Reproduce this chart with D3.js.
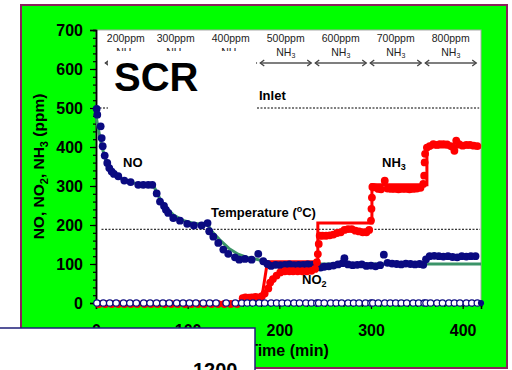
<!DOCTYPE html>
<html>
<head>
<meta charset="utf-8">
<script src="https://cdn.jsdelivr.net/npm/d3@7/dist/d3.min.js"></script>
<style>
  html, body { margin: 0; padding: 0; background: #ffffff; }
  svg { display: block; }
  text { font-family: "Liberation Sans", Arial, sans-serif; }
</style>
</head>
<body>
<svg id="chart" width="512" height="370"></svg>
<script>
// ---- measured NO outlet (filled navy dots) ----
const noTime = [0.7, 1.4, 5.1, 6.2, 7.3, 9.5, 12.3, 14.5, 17.1, 19.6, 24.3, 30.9, 37.8, 46.1, 51.6, 57, 61.4,
  66.2, 69.8, 74.2, 76.3, 78.8, 84.3, 91.6, 99.5, 106.8, 115.2, 121.7, 123.5, 128, 133.4, 138.9, 144.3,
  151.6, 156.3, 162.5, 169.8, 177, 182.5, 187, 191, 196, 201, 206, 211, 216, 221, 226, 231,
  236, 241, 245, 249, 254, 259, 264, 269, 271, 275, 280, 285, 290, 295, 300, 305,
  310, 314, 318, 323, 328, 333, 338, 343, 348, 353, 357, 360, 364, 369, 374, 379, 384,
  389, 394, 399, 404, 409, 414];
const noVal = [498, 483, 453, 423, 402, 378, 359, 346, 337, 331, 325, 314, 310, 303, 303, 303, 303,
  281, 260, 249, 239, 231, 218, 211, 203, 199, 199, 205, 184, 170, 154, 137, 126,
  117, 111, 113, 111, 126, 107, 100, 95, 98, 97, 98, 99, 97, 98, 98, 99,
  98, 97, 91, 93, 94, 96, 99, 102, 115, 99, 97, 98, 99, 95, 96, 94,
  97, 124, 103, 101, 100, 99, 101, 100, 99, 100, 98, 112, 120, 121, 120, 119, 120,
  118, 117, 120, 119, 120, 120];

// ---- model NO curve (green line) ----
const noFitTime = [0, 3, 6, 10, 15, 20, 30, 40, 50, 60, 63, 68, 75, 85, 95, 105, 115, 122, 127, 135,
  145, 155, 165, 175, 182, 188, 195, 420];
const noFitVal = [480, 440, 405, 370, 345, 330, 315, 308, 305, 303, 300, 275, 248, 225, 212, 205, 202,
  200, 182, 162, 140, 125, 117, 112, 108, 103, 100, 100];

// ---- measured NH3 slip (red dots) ----
const nh3Time = [3, 10, 17, 24, 31, 38, 45, 53, 60, 67, 75, 82, 89, 97, 104, 111, 118, 126, 133, 140, 147, 154,
  160, 163, 167, 170, 174, 178, 181, 184, 188, 190, 193, 197, 201, 206, 211, 215, 220, 225, 230, 235,
  239, 241, 242, 243, 244, 247, 251, 255, 259, 263, 267, 271, 275, 279, 283, 287, 291, 295, 298,
  300, 300.5, 301, 301.5, 304, 308, 311, 315, 318, 322, 326, 330, 334, 338, 342, 346, 350, 354,
  357, 358, 358.5, 359, 361, 364, 368, 372, 375, 379, 383, 387, 389, 391, 393, 396, 400, 404, 408, 412, 416];
const nh3Val = [0, 0, 0, 0, 0, 0, 0, 0, 0, 0, 0, 0, 0, 0, 0, 0, 0, 0, 0, 0, 0, 0,
  15, 17, 16, 17, 18, 17, 20, 27, 40, 55, 64, 73, 81, 84, 84, 84, 84, 84, 84, 85,
  90, 107, 128, 154, 175, 175, 175, 176, 178, 182, 184, 190, 192, 192, 188, 186, 184, 184, 190,
  214, 244, 273, 300, 299, 295, 294, 316, 296, 295, 295, 294, 295, 295, 294, 295, 296, 298,
  308, 329, 363, 385, 401, 405, 410, 408, 410, 410, 409, 405, 403, 393, 419, 410, 406, 408, 408, 406, 405];

// ---- NH3 dosing steps (red line) ----
const nh3StepTime = [0, 180, 187, 242, 242, 301, 301, 361, 361, 420];
const nh3StepVal = [0, 0, 106, 106, 205, 205, 303, 303, 400, 400];

// ---- measured NO2 (open circles) ----
const no2Time = [1, 8, 15, 22, 30, 37, 44, 52, 59, 66, 73, 80, 88, 95, 102, 109, 117, 124, 131, 142, 152,
  159, 165, 171, 178, 184, 191, 197, 203, 209, 216, 222, 229, 235, 241, 243, 249, 256, 262, 268, 275,
  281, 287, 294, 300, 302, 308, 315, 321, 327, 333, 339, 346, 352, 358, 360, 365, 372, 378, 385, 391,
  397, 404, 410, 416];
const no2Val = no2Time.map(() => 0);
const no2EndTime = 420, no2EndVal = 0;

// ---- NH3 dose windows ----
const doseLabels = ["200ppm", "300ppm", "400ppm", "500ppm", "600ppm", "700ppm", "800ppm"];
const doseStart = [8, 57, 117, 177, 237, 297, 357];
const doseEnd = [57, 117, 177, 237, 297, 357, 417];

// ---- reference levels ----
const inletLevel = 500;
const inletSpan = [0, 418];
const tempLevel = 189;
const tempSpan = [6, 419];

// ---- axis ticks ----
const xTicks = [0, 100, 200, 300, 400];
const yTicks = [0, 100, 200, 300, 400, 500, 600, 700];

const svg = d3.select("#chart");
const FONT = '"Liberation Sans", Arial, sans-serif';

// outer green frame
svg.append("rect").attr("x", 21).attr("y", 5).attr("width", 486).attr("height", 363)
  .attr("fill", "#00ff00").attr("stroke", "#8c1f5c").attr("stroke-width", 2);

const x = d3.scaleLinear().domain([0, 420]).range([96, 481]);
const y = d3.scaleLinear().domain([0, 700]).range([303, 30]);

// plot area
svg.append("rect").attr("x", x(0)).attr("y", y(700)).attr("width", x(420) - x(0)).attr("height", y(0) - y(700))
  .attr("fill", "#ffffff").attr("stroke", "#a8a8a8").attr("stroke-width", 1);

// axes
const gy = svg.append("g").attr("transform", `translate(${x(0)},0)`);
gy.call(d3.axisLeft(y).tickValues(d3.range(0, 701, 20)).tickSize(3).tickFormat(""));
const gyMajor = svg.append("g").attr("transform", `translate(${x(0)},0)`);
gyMajor.call(d3.axisLeft(y).tickValues(yTicks).tickSize(6).tickPadding(7));
const gx = svg.append("g").attr("transform", `translate(0,${y(0)})`);
gx.call(d3.axisBottom(x).tickValues(d3.range(0, 421, 10)).tickSize(4).tickFormat(""));
const gxMajor = svg.append("g").attr("transform", `translate(0,${y(0)})`);
gxMajor.call(d3.axisBottom(x).tickValues(xTicks).tickSize(6).tickPadding(16));
[gy, gyMajor, gx, gxMajor].forEach(g => {
  g.selectAll("path.domain").attr("stroke", "#000").attr("stroke-width", 1.5);
  g.selectAll(".tick line").attr("stroke", "#000").attr("stroke-width", 1.2);
  g.selectAll("text").attr("font-family", FONT).attr("font-size", 16).attr("font-weight", "bold").attr("fill", "#000");
});

// axis titles
svg.append("text").attr("x", x(210)).attr("y", 356).attr("text-anchor", "middle")
  .attr("font-size", 16).attr("font-weight", "bold").text("Time (min)");
const yt = svg.append("text").attr("transform", `translate(44,${(y(0) + y(700)) / 2}) rotate(-90)`)
  .attr("text-anchor", "middle").attr("font-size", 15.5).attr("font-weight", "bold");
yt.append("tspan").text("NO, NO");
yt.append("tspan").attr("font-size", 11).attr("dy", 4).text("2");
yt.append("tspan").attr("dy", -4).text(", NH");
yt.append("tspan").attr("font-size", 11).attr("dy", 4).text("3");
yt.append("tspan").attr("dy", -4).text(" (ppm)");

// dashed reference lines
svg.append("line").attr("x1", x(inletSpan[0])).attr("x2", x(inletSpan[1]))
  .attr("y1", y(inletLevel)).attr("y2", y(inletLevel))
  .attr("stroke", "#000").attr("stroke-width", 1).attr("stroke-dasharray", "2,1.5");
svg.append("line").attr("x1", x(tempSpan[0])).attr("x2", x(tempSpan[1]))
  .attr("y1", y(tempLevel)).attr("y2", y(tempLevel))
  .attr("stroke", "#000").attr("stroke-width", 1).attr("stroke-dasharray", "2,1.5");

// dose header: labels and double arrows
const hdr = svg.append("g");
doseLabels.forEach((lab, i) => {
  const cx = x((doseStart[i] + doseEnd[i]) / 2);
  hdr.append("text").attr("x", cx).attr("y", 42).attr("text-anchor", "middle")
    .attr("font-size", 10.5).attr("fill", "#222").text(lab);
  const t = hdr.append("text").attr("x", cx).attr("y", 56).attr("text-anchor", "middle")
    .attr("font-size", 10.5).attr("fill", "#222");
  t.append("tspan").text("NH");
  t.append("tspan").attr("font-size", 7).attr("dy", 2).text("3");
  const x1 = x(doseStart[i]) + 2, x2 = x(doseEnd[i]) - 2, yy = 63;
  hdr.append("line").attr("x1", x1).attr("x2", x2).attr("y1", yy).attr("y2", yy)
    .attr("stroke", "#555").attr("stroke-width", 1.5);
  hdr.append("path").attr("d", `M${x1 + 4},${yy - 3}L${x1},${yy}L${x1 + 4},${yy + 3}`)
    .attr("fill", "none").attr("stroke", "#444").attr("stroke-width", 1.3);
  hdr.append("path").attr("d", `M${x2 - 4},${yy - 3}L${x2},${yy}L${x2 - 4},${yy + 3}`)
    .attr("fill", "none").attr("stroke", "#444").attr("stroke-width", 1.3);
});

// SCR title box
svg.append("rect").attr("x", 108).attr("y", 51).attr("width", 148).attr("height", 66).attr("fill", "#fff");
svg.append("text").attr("x", 114).attr("y", 91).attr("font-size", 40).attr("font-weight", "bold").text("SCR");

// annotations
svg.append("text").attr("x", 259).attr("y", 100).attr("font-size", 13).attr("font-weight", "bold").text("Inlet");
const tt = svg.append("text").attr("x", 211).attr("y", 217).attr("font-size", 13).attr("font-weight", "bold");
tt.append("tspan").text("Temperature (");
tt.append("tspan").attr("font-size", 9).attr("dy", -5).text("o");
tt.append("tspan").attr("dy", 5).text("C)");
svg.append("text").attr("x", 123).attr("y", 167).attr("font-size", 13).attr("font-weight", "bold").text("NO");
const nh = svg.append("text").attr("x", 382).attr("y", 167).attr("font-size", 13).attr("font-weight", "bold");
nh.append("tspan").text("NH");
nh.append("tspan").attr("font-size", 9).attr("dy", 3).text("3");
const n2 = svg.append("text").attr("x", 302).attr("y", 284).attr("font-size", 13).attr("font-weight", "bold");
n2.append("tspan").text("NO");
n2.append("tspan").attr("font-size", 9).attr("dy", 3).text("2");

// model NO line
const line = d3.line().x(d => x(d[0])).y(d => y(d[1]));
svg.append("path").datum(noFitTime.map((t, i) => [t, noFitVal[i]]))
  .attr("d", line).attr("fill", "none").attr("stroke", "#3b9468").attr("stroke-width", 3);

// NH3 dosing step line
svg.append("path").datum(nh3StepTime.map((t, i) => [t, nh3StepVal[i]]))
  .attr("d", line).attr("fill", "none").attr("stroke", "#ff0000").attr("stroke-width", 3);

// NO dots
svg.append("g").selectAll("circle").data(noTime.map((t, i) => [t, noVal[i]])).join("circle")
  .attr("cx", d => x(d[0])).attr("cy", d => y(d[1])).attr("r", 3.9).attr("fill", "#0a0a80");

// NH3 dots
svg.append("g").selectAll("circle").data(nh3Time.map((t, i) => [t, nh3Val[i]])).join("circle")
  .attr("cx", d => x(d[0])).attr("cy", d => y(d[1]) + 1).attr("r", 3.9).attr("fill", "#ff0000");

// NO2 open circles
svg.append("g").selectAll("circle").data(no2Time.map((t, i) => [t, no2Val[i]])).join("circle")
  .attr("cx", d => x(d[0])).attr("cy", d => y(d[1])).attr("r", 3.2)
  .attr("fill", "#fff").attr("stroke", "#0a0a80").attr("stroke-width", 1.2);
svg.append("circle").attr("cx", x(no2EndTime)).attr("cy", y(no2EndVal)).attr("r", 3.1).attr("fill", "#0a0a80");

// overlapping panel at lower left
svg.append("rect").attr("x", -2).attr("y", 328).attr("width", 257).attr("height", 60)
  .attr("fill", "#fff").attr("stroke", "#1e1e78").attr("stroke-width", 1.5);
svg.append("text").attr("x", 193).attr("y", 377).attr("font-size", 20).attr("font-weight", "bold").text("1200");
</script>
</body>
</html>
